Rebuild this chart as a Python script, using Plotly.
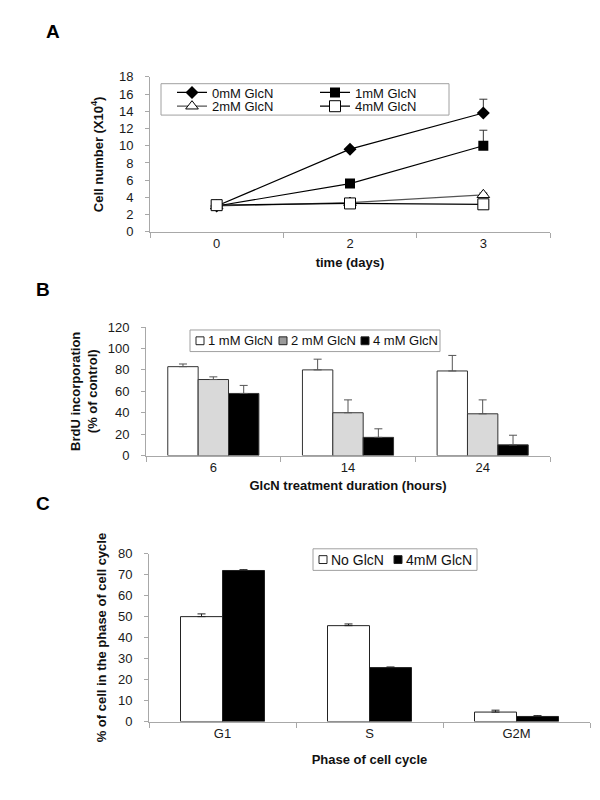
import plotly.graph_objects as go

FONT = "Liberation Sans, Arial, sans-serif"

# ---------- Panel A data ----------
days = ["0", "2", "3"]
a_names = ["0mM GlcN", "1mM GlcN", "2mM GlcN", "4mM GlcN"]
a_0mM = [3.0, 9.6, 13.8]
a_0mM_err = [0.0, 0.2, 1.6]
a_1mM = [3.0, 5.6, 10.0]
a_1mM_err = [0.0, 0.2, 1.8]
a_2mM = [3.0, 3.4, 4.3]
a_2mM_err = [0.0, 0.3, 0.2]
a_4mM = [3.1, 3.3, 3.2]
a_4mM_err = [0.0, 0.1, 0.1]

# ---------- Panel B data ----------
hours = ["6", "14", "24"]
b_names = ["1 mM GlcN", "2 mM GlcN", "4 mM GlcN"]
b_1mM = [83, 80, 79]
b_1mM_err = [2.5, 10, 14.5]
b_2mM = [71, 40, 39]
b_2mM_err = [2.5, 12, 13]
b_4mM = [58, 17, 10]
b_4mM_err = [7.5, 8, 9]

# ---------- Panel C data ----------
phases = ["G1", "S", "G2M"]
c_names = ["No GlcN", "4mM GlcN"]
c_no = [50, 45.7, 4.5]
c_no_err = [1.3, 0.8, 0.9]
c_4mM = [72, 25.7, 2.4]
c_4mM_err = [0.4, 0.3, 0.4]

W, H = 600, 800


def px_x(p):
    return p / W


def px_y(p):
    return 1 - p / H


fig = go.Figure()

# ---------- Panel A traces ----------
a_series = [
    (a_0mM, a_0mM_err, dict(symbol="diamond", size=10, color="black"), "black", "legend"),
    (a_1mM, a_1mM_err, dict(symbol="square", size=10, color="black"), "black", "legend"),
    (a_2mM, a_2mM_err, dict(symbol="triangle-up", size=11, color="white",
                            line=dict(color="black", width=1)), "#555555", "legend2"),
    (a_4mM, a_4mM_err, dict(symbol="square", size=11, color="white",
                            line=dict(color="black", width=1)), "black", "legend2"),
]
for name, (vals, err, mk, lc, lg) in zip(a_names, a_series):
    fig.add_trace(go.Scatter(
        x=days, y=vals, name=name, mode="lines+markers",
        line=dict(color=lc, width=1.2), marker=mk,
        error_y=dict(type="data", symmetric=False, array=err,
                     arrayminus=[0] * len(err), color="#333333", thickness=1, width=4),
        xaxis="x", yaxis="y", legend=lg,
    ))

# ---------- Panel B traces ----------
b_w = 0.2255
b_series = [
    (b_1mM, b_1mM_err, "white", -1.5 * b_w),
    (b_2mM, b_2mM_err, "#d9d9d9", -0.5 * b_w),
    (b_4mM, b_4mM_err, "black", 0.5 * b_w),
]
for name, (vals, err, col, off) in zip(b_names, b_series):
    fig.add_trace(go.Bar(
        x=hours, y=vals, name=name, width=b_w, offset=off,
        marker=dict(color=col, line=dict(color="#333333", width=1)),
        error_y=dict(type="data", symmetric=False, array=err,
                     arrayminus=[0] * len(err), color="#555555", thickness=1, width=4),
        xaxis="x2", yaxis="y2", showlegend=False,
    ))

# ---------- Panel C traces ----------
c_w = 0.2857
c_series = [
    (c_no, c_no_err, "white", -c_w),
    (c_4mM, c_4mM_err, "black", 0.0),
]
for name, (vals, err, col, off) in zip(c_names, c_series):
    fig.add_trace(go.Bar(
        x=phases, y=vals, name=name, width=c_w, offset=off,
        marker=dict(color=col, line=dict(color="#222222", width=1)),
        error_y=dict(type="data", symmetric=False, array=err,
                     arrayminus=[0] * len(err), color="#222222", thickness=1, width=4),
        xaxis="x3", yaxis="y3", showlegend=False,
    ))

tickfont = dict(family=FONT, size=13, color="#1a1a1a")
titlefont = dict(family=FONT, size=13, color="#111111", weight="bold")
axis_common = dict(showgrid=False, zeroline=False, showline=True, linecolor="#a8a8a8",
                   linewidth=1, ticks="outside", tickcolor="#a8a8a8", ticklen=4,
                   tickfont=tickfont)
yax = dict(ticklabelstandoff=9, **axis_common)
xcat = dict(type="category", range=[-0.5, 2.5], tickson="boundaries", ticklen=5,
            ticklabelstandoff=0, **{k: v for k, v in axis_common.items() if k != "ticklen"})

legend_font = dict(family=FONT, size=13, color="#111111")
fig.update_layout(
    width=W, height=H, margin=dict(l=0, r=0, t=0, b=0),
    paper_bgcolor="white", plot_bgcolor="white",
    barmode="overlay",
    font=dict(family=FONT, color="#111111"),
    xaxis=dict(domain=[px_x(142), px_x(542)], anchor="y",
               title=dict(text="time (days)", font=titlefont, standoff=7), **xcat),
    yaxis=dict(domain=[px_y(221), px_y(63)], anchor="x", range=[0, 18], dtick=2,
               title=dict(text="Cell number (X10<sup>4</sup>)", font=titlefont, standoff=12),
               **yax),
    xaxis2=dict(domain=[px_x(138), px_x(542)], anchor="y2",
                title=dict(text="GlcN treatment duration (hours)", font=titlefont, standoff=6),
                **xcat),
    yaxis2=dict(domain=[px_y(449), px_y(318)], anchor="x2", range=[0, 120], dtick=20,
                title=dict(text="BrdU incorporation<br>(% of control)", font=titlefont, standoff=7),
                **yax),
    xaxis3=dict(domain=[px_x(141), px_x(582)], anchor="y3",
                title=dict(text="Phase of cell cycle", font=titlefont, standoff=14),
                **xcat),
    yaxis3=dict(domain=[px_y(720), px_y(549)], anchor="x3", range=[0, 80], dtick=10,
                title=dict(text="% of cell in the phase of cell cycle", font=titlefont, standoff=8),
                **yax),
    legend=dict(orientation="h", x=px_x(164), xanchor="left", y=px_y(79), yanchor="middle",
                bgcolor="rgba(0,0,0,0)", borderwidth=0, entrywidth=98, entrywidthmode="pixels",
                font=legend_font, itemwidth=30, tracegroupgap=0),
    legend2=dict(orientation="h", x=px_x(164), xanchor="left", y=px_y(93), yanchor="middle",
                 bgcolor="rgba(0,0,0,0)", borderwidth=0, entrywidth=98, entrywidthmode="pixels",
                 font=legend_font, itemwidth=30, tracegroupgap=0),
)

shapes = []
annotations = []
# legend boxes
shapes.append(dict(type="rect", xref="paper", yref="paper", x0=px_x(153), x1=px_x(441),
                   y0=px_y(102), y1=px_y(70), line=dict(color="#a0a0a0", width=1)))
shapes.append(dict(type="rect", xref="paper", yref="paper", x0=px_x(182), x1=px_x(432),
                   y0=px_y(343), y1=px_y(321), line=dict(color="#a0a0a0", width=1)))
shapes.append(dict(type="rect", xref="paper", yref="paper", x0=px_x(305), x1=px_x(469),
                   y0=px_y(566), y1=px_y(544), line=dict(color="#a0a0a0", width=1)))

# manual legend B
b_key_x = [188, 271, 353]
b_key_col = ["white", "#9a9a9a", "black"]
for name, kx, col in zip(b_names, b_key_x, b_key_col):
    shapes.append(dict(type="rect", xref="paper", yref="paper", x0=px_x(kx), x1=px_x(kx + 8),
                       y0=px_y(336), y1=px_y(328), fillcolor=col,
                       line=dict(color="#222222", width=1)))
    annotations.append(dict(text=name, xref="paper", yref="paper", x=px_x(kx + 10), y=px_y(332),
                            xanchor="left", yanchor="middle", showarrow=False,
                            font=dict(family=FONT, size=13, color="#111111")))
# manual legend C
c_key_x = [311, 386]
c_key_col = ["white", "black"]
for name, kx, col in zip(c_names, c_key_x, c_key_col):
    shapes.append(dict(type="rect", xref="paper", yref="paper", x0=px_x(kx), x1=px_x(kx + 8),
                       y0=px_y(559), y1=px_y(551), fillcolor=col,
                       line=dict(color="#222222", width=1)))
    annotations.append(dict(text=name, xref="paper", yref="paper", x=px_x(kx + 10), y=px_y(555),
                            xanchor="left", yanchor="middle", showarrow=False,
                            font=dict(family=FONT, size=14, color="#111111")))

# panel letters
for lab, lx, ly in [("A", 45, 17), ("B", 35, 280), ("C", 35, 498)]:
    annotations.append(dict(text=lab, xref="paper", yref="paper", x=px_x(lx), y=px_y(ly),
                            xanchor="center", yanchor="middle", showarrow=False,
                            font=dict(family=FONT, size=19, color="#000000", weight="bold")))

fig.update_layout(shapes=shapes, annotations=annotations)
fig.write_html("out.html")
